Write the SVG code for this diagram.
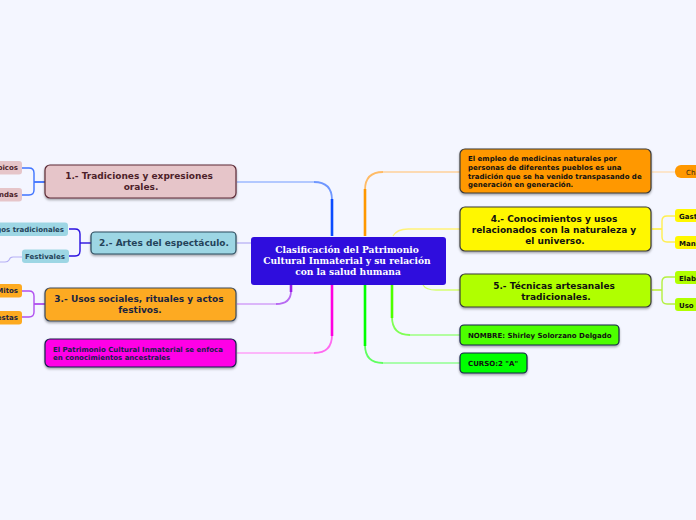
<svg xmlns="http://www.w3.org/2000/svg" width="696" height="520" viewBox="0 0 696 520">
<defs>
<filter id="sh" x="-10%" y="-20%" width="120%" height="150%"><feDropShadow dx="0" dy="1.5" stdDeviation="1.2" flood-color="#000" flood-opacity="0.35"/></filter>
</defs>
<style>
text{font-family:"DejaVu Sans",Verdana,sans-serif;font-weight:700;text-anchor:middle}
.n{stroke-width:1.2;filter:url(#sh)}
.c{fill:none;stroke-linecap:butt}
.t1{font-size:9px}
.t2{font-size:7px;text-anchor:start}
.s{font-size:7px;text-anchor:end}
.r{font-size:7px;text-anchor:start}
.m{font-family:"DejaVu Serif",serif;font-size:9.1px;fill:#fff}
</style>
<rect width="696" height="520" fill="#f4f6ff"/>
<g id="connectors">
<path class="c" d="M237 182H314" stroke="#9db8ff" stroke-width="1.3"/>
<path class="c" d="M314 182Q332 182 332 200" stroke="#6f97ff" stroke-width="1.8"/>
<path class="c" d="M332 199V236" stroke="#0a4cff" stroke-width="2.6"/>
<path class="c" d="M237 243H251" stroke="#b9b0f5" stroke-width="1.3"/>
<path class="c" d="M237 304H276" stroke="#d3a0f8" stroke-width="1.3"/>
<path class="c" d="M276 304Q291 304 291 291" stroke="#b86af2" stroke-width="1.8"/>
<path class="c" d="M291 292V285" stroke="#9a1ee8" stroke-width="2.6"/>
<path class="c" d="M237 353H314" stroke="#ffa0f8" stroke-width="1.3"/>
<path class="c" d="M314 353Q332 353 332 335" stroke="#ff6af0" stroke-width="1.8"/>
<path class="c" d="M332 336V285" stroke="#ff00e0" stroke-width="2.6"/>
<path class="c" d="M460 172H383" stroke="#ffd09a" stroke-width="1.3"/>
<path class="c" d="M383 172Q365 172 365 190" stroke="#ffbb66" stroke-width="1.8"/>
<path class="c" d="M365 189V236" stroke="#ff9800" stroke-width="2.6"/>
<path class="c" d="M460 229H408Q397 229 393 236" stroke="#fff27a" stroke-width="1.3"/>
<path class="c" d="M460 290H436Q426 290 423 285" stroke="#d5ff70" stroke-width="1.3"/>
<path class="c" d="M460 335H410" stroke="#9dff80" stroke-width="1.3"/>
<path class="c" d="M410 335Q392 335 392 317" stroke="#80ff55" stroke-width="1.8"/>
<path class="c" d="M392 318V285" stroke="#4dff00" stroke-width="2.6"/>
<path class="c" d="M460 363H383" stroke="#90ff90" stroke-width="1.3"/>
<path class="c" d="M383 363Q365 363 365 345" stroke="#60ff60" stroke-width="1.8"/>
<path class="c" d="M365 346V285" stroke="#00ff00" stroke-width="2.6"/>
<path class="c" d="M652 172H675" stroke="#ffdcb0" stroke-width="1.3"/>
<path class="c" d="M45 182H34" stroke="#0a4cff" stroke-width="1.4"/>
<path class="c" d="M22 168H29Q34 168 34 173V190Q34 195 29 195H22" stroke="#3f74ff" stroke-width="1.4"/>
<path class="c" d="M91 243H80" stroke="#2a10e0" stroke-width="1.4"/>
<path class="c" d="M69 229H75Q80 229 80 234V251Q80 256 75 256H69" stroke="#2a10e0" stroke-width="1.4"/>
<path class="c" d="M22 257H13Q10 257 9 260Q8 262 5 262H0" stroke="#b5b0f5" stroke-width="1.2"/>
<path class="c" d="M45 304H34" stroke="#9a1ee8" stroke-width="1.4"/>
<path class="c" d="M22 291H29Q34 291 34 296V312Q34 317 29 317H22" stroke="#b050f0" stroke-width="1.4"/>
<path class="c" d="M652 229H662" stroke="#ffef20" stroke-width="1.4"/>
<path class="c" d="M675 216H667Q662 216 662 221V237Q662 242 667 242H675" stroke="#ffef50" stroke-width="1.4"/>
<path class="c" d="M652 290H662" stroke="#b4f020" stroke-width="1.4"/>
<path class="c" d="M675 277H667Q662 277 662 282V299Q662 304 667 304H675" stroke="#b4f040" stroke-width="1.4"/>
</g>
<g id="central"><rect x="251" y="237" width="195" height="48" rx="3" fill="#2f0ddd"/>
<text class="m" x="347" y="253">Clasificación del Patrimonio</text>
<text class="m" x="347" y="264">Cultural Inmaterial y su relación</text>
<text class="m" x="348" y="275">con la salud humana</text></g>
<g id="n1"><rect class="n" x="45" y="165" width="191" height="33" rx="5" fill="#e6c5c9" stroke="#5c2b36"/>
<text class="t1" x="139" y="179" fill="#4d1f2a">1.- Tradiciones y expresiones</text><text class="t1" x="141" y="190" fill="#4d1f2a">orales.</text></g>
<g id="n1a"><rect x="-20" y="161" width="42" height="13.500" rx="3" fill="#e6c5c9"/><text class="s" x="18" y="170" fill="#4d1f2a">picos</text></g>
<g id="n1b"><rect x="-20" y="188" width="42" height="13.500" rx="3" fill="#e6c5c9"/><text class="s" x="18" y="197" fill="#4d1f2a">ndas</text></g>
<g id="n2"><rect class="n" x="91" y="232" width="145" height="22" rx="4" fill="#9dd6e4" stroke="#2b4a5c"/>
<text class="t1" x="164" y="246" fill="#24435a">2.- Artes del espectáculo.</text></g>
<g id="n2a"><rect x="-20" y="222.500" width="88" height="13.500" rx="3" fill="#9dd6e4"/><text class="s" x="64" y="232" fill="#24435a">gos tradicionales</text></g>
<g id="n2b"><rect x="22" y="249.500" width="47" height="13.500" rx="3" fill="#9dd6e4"/><text x="45" y="259" style="font-size:7px" fill="#24435a">Festivales</text></g>
<g id="n3"><rect class="n" x="45" y="288" width="191" height="33" rx="5" fill="#fdaa20" stroke="#3c4a5c"/>
<text class="t1" x="139" y="302" fill="#1a2440">3.- Usos sociales, rituales y actos</text><text class="t1" x="140" y="313" fill="#1a2440">festivos.</text></g>
<g id="n3a"><rect x="-20" y="284" width="42" height="13.500" rx="3" fill="#fdaa20"/><text class="s" x="18" y="293" fill="#1a2440">Mitos</text></g>
<g id="n3b"><rect x="-20" y="311" width="42" height="13.500" rx="3" fill="#fdaa20"/><text class="s" x="18" y="320" fill="#1a2440">estas</text></g>
<g id="n4"><rect class="n" x="45" y="339" width="191" height="28" rx="5" fill="#ff00e6" stroke="#14204a"/>
<text class="t2" x="53" y="352" fill="#14204a">El Patrimonio Cultural Inmaterial se enfoca</text><text class="t2" x="53" y="360" fill="#14204a">en conocimientos ancestrales</text></g>
<g id="r1"><rect class="n" x="460" y="149" width="191" height="44" rx="5" fill="#ff9800" stroke="#3a3a3a"/>
<text class="t2" x="468" y="161" fill="#111">El empleo de medicinas naturales por</text><text class="t2" x="468" y="170" fill="#111">personas de diferentes pueblos es una</text><text class="t2" x="468" y="178.500" fill="#111">tradición que se ha venido transpasando de</text><text class="t2" x="468" y="187" fill="#111">generación en generación.</text></g>
<g id="r1a"><rect x="675" y="165" width="40" height="13" rx="6" fill="#ff9800"/><text class="r" x="686" y="175" style="font-weight:400" fill="#3a2a10">Cha</text></g>
<g id="r2"><rect class="n" x="460" y="207" width="191" height="44" rx="5" fill="#fff700" stroke="#3a3a3a"/>
<text class="t1" x="554" y="222" fill="#111">4.- Conocimientos y usos</text><text class="t1" x="554" y="233" fill="#111">relacionados con la naturaleza y</text><text class="t1" x="555" y="244" fill="#111">el universo.</text></g>
<g id="r2a"><rect x="675" y="209" width="40" height="13" rx="3" fill="#fff700"/><text class="r" x="679" y="219" fill="#111">Gast</text></g>
<g id="r2b"><rect x="675" y="236" width="40" height="13" rx="3" fill="#fff700"/><text class="r" x="679" y="246" fill="#111">Man</text></g>
<g id="r3"><rect class="n" x="460" y="274" width="191" height="33" rx="5" fill="#b0ff00" stroke="#3a3a3a"/>
<text class="t1" x="554" y="289" fill="#111">5.- Técnicas artesanales</text><text class="t1" x="556" y="300" fill="#111">tradicionales.</text></g>
<g id="r3a"><rect x="675" y="271" width="40" height="13" rx="3" fill="#b0ff00"/><text class="r" x="679" y="280.500" fill="#111">Elab</text></g>
<g id="r3b"><rect x="675" y="298" width="40" height="13" rx="3" fill="#b0ff00"/><text class="r" x="679" y="307.500" fill="#111">Uso</text></g>
<g id="r4"><rect class="n" x="460" y="325" width="159" height="20" rx="4" fill="#4dff00" stroke="#14204a"/>
<text class="t2" x="468" y="338" fill="#111">NOMBRE: Shirley Solorzano Delgado</text></g>
<g id="r5"><rect class="n" x="460" y="353" width="67" height="20" rx="4" fill="#00ff00" stroke="#14204a"/>
<text class="t2" x="468" y="366" fill="#111">CURSO:2 "A"</text></g>
</svg>
